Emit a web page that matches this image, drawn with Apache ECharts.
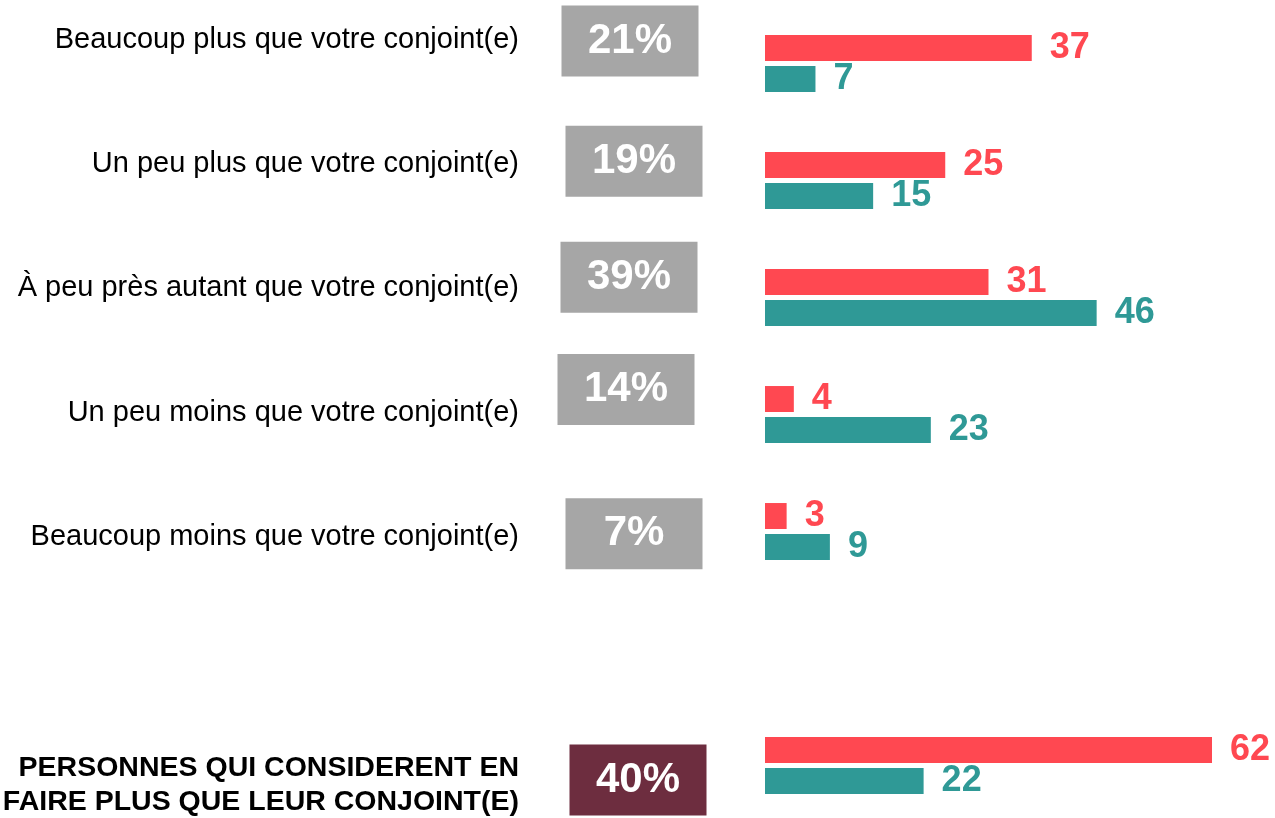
<!DOCTYPE html>
<html>
<head>
<meta charset="utf-8">
<script src="https://cdn.jsdelivr.net/npm/echarts@6/dist/echarts.min.js"></script>
<style>
html,body{margin:0;padding:0;background:#fff;}
#chart{width:1275px;height:818px;}
</style>
</head>
<body>
<div id="chart"></div>
<script>
// ---- data ----
const categories = [
  "Beaucoup plus que votre conjoint(e)",
  "Un peu plus que votre conjoint(e)",
  "À peu près autant que votre conjoint(e)",
  "Un peu moins que votre conjoint(e)",
  "Beaucoup moins que votre conjoint(e)",
  "PERSONNES QUI CONSIDERENT EN\nFAIRE PLUS QUE LEUR CONJOINT(E)"
];
const totalPct = [21, 19, 39, 14, 7, 40];
const femmes = [37, 25, 31, 4, 3, 62];
const hommes = [7, 15, 46, 23, 9, 22];

// ---- style ----
const RED = '#FF4851';
const TEAL = '#2F9996';
const GREY = '#A6A6A6';
const MAROON = '#6D2D3F';
const FONT = '"Liberation Sans", Arial, sans-serif';
const NARROW = '"Liberation Sans Narrow", "Arial Narrow", "Liberation Sans", sans-serif';
const boxNudge = [[-2, 1], [2, -3], [-3, -11], [-6, -23], [2, -3], [6, -5]];

// insert an empty row before the summary row
function withGap(arr, blank) {
  const out = arr.slice(0, 5);
  out.push(blank);
  out.push(arr[5]);
  return out;
}
const cats = withGap(categories, '');
const catIdx = cats.map((c, i) => i);
const boxData = [];
totalPct.forEach((v, i) => {
  const row = i < 5 ? i : 6;
  boxData.push({
    value: [0, row, v],
    symbolOffset: boxNudge[i],
    itemStyle: { color: i < 5 ? GREY : MAROON, opacity: 1 }
  });
});

const chart = echarts.init(document.getElementById('chart'), null, { renderer: 'canvas' });
const hidden = { axisLine: { show: false }, axisTick: { show: false }, splitLine: { show: false } };

chart.setOption({
  animation: false,
  backgroundColor: '#fff',
  grid: [
    { left: 532, width: 200, top: -22, height: 869, outerBoundsMode: 'none', containLabel: false },
    { left: 765, width: 447, top: 5, height: 819, outerBoundsMode: 'none', containLabel: false }
  ],
  xAxis: [
    Object.assign({ type: 'value', gridIndex: 0, min: -1, max: 1, axisLabel: { show: false } }, hidden),
    Object.assign({ type: 'value', gridIndex: 1, min: 0, max: 62, axisLabel: { show: false } }, hidden)
  ],
  yAxis: [
    Object.assign({
      type: 'category', gridIndex: 0, inverse: true, data: cats,
      axisLabel: {
        margin: 13, align: 'right', color: '#000', fontFamily: FONT, fontSize: 29,
        formatter: (v, i) => i === 6 ? '{b|' + v.split('\n').join('}\n{b|') + '}' : v,
        rich: { b: { fontFamily: NARROW, fontWeight: 'bold', fontSize: 28.5, lineHeight: 34, color: '#000', align: 'right' } }
      }
    }, hidden),
    Object.assign({
      type: 'category', gridIndex: 1, inverse: true, data: catIdx, axisLabel: { show: false }
    }, hidden)
  ],
  series: [
    {
      type: 'scatter', xAxisIndex: 0, yAxisIndex: 0, symbol: 'rect', symbolSize: [137, 71],
      data: boxData,
      itemStyle: { opacity: 1 },
      label: {
        show: true, position: 'inside', color: '#fff', fontFamily: FONT, fontWeight: 'bold', fontSize: 42,
        formatter: p => p.value[2] + '%'
      }
    },
    {
      name: 'Femmes', type: 'bar', xAxisIndex: 1, yAxisIndex: 1,
      data: withGap(femmes, null), barWidth: 26, barGap: '19%',
      itemStyle: { color: RED },
      label: { show: true, position: 'right', distance: 18, color: RED, fontFamily: FONT, fontWeight: 'bold', fontSize: 36 }
    },
    {
      name: 'Hommes', type: 'bar', xAxisIndex: 1, yAxisIndex: 1,
      data: withGap(hommes, null), barWidth: 26, barGap: '19%',
      itemStyle: { color: TEAL },
      label: { show: true, position: 'right', distance: 18, color: TEAL, fontFamily: FONT, fontWeight: 'bold', fontSize: 36 }
    }
  ]
});
</script>
</body>
</html>
